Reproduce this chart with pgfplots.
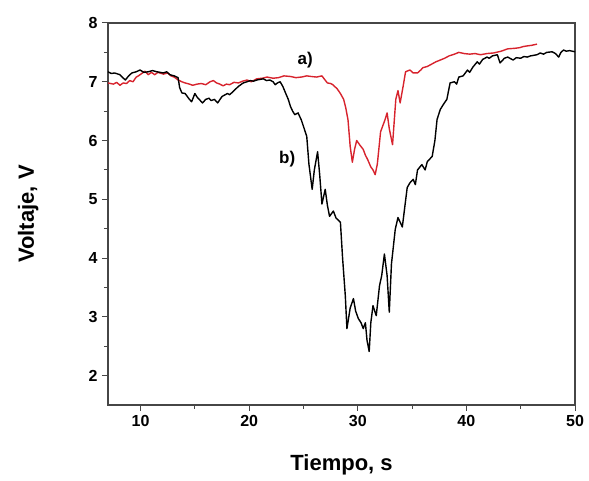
\documentclass[border=0pt]{standalone}
\usepackage{fontspec}
\setmainfont{Liberation Sans}
\usepackage{pgfplots}
\pgfplotsset{compat=1.18}
\definecolor{redline}{RGB}{215,35,45}
\definecolor{axgray}{RGB}{70,70,70}
\begin{document}
\begin{tikzpicture}
\begin{axis}[
  scale only axis,
  width=467pt, height=382pt,
  xmin=7, xmax=50, ymin=1.5, ymax=8,
  xtick={10,20,30,40,50}, ytick={2,3,4,5,6,7,8},
  minor x tick num=1, minor y tick num=1,
  tick align=outside,
  xtick pos=bottom, ytick pos=left,
  major tick length=6pt, minor tick length=4pt,
  axis line style={axgray, line width=1.2pt},
  every tick/.style={axgray, line width=1pt},
  /pgf/number format/assume math mode=true,
  ticklabel style={font=\fontsize{16}{18}\selectfont\bfseries},
  xticklabel style={yshift=-1pt},
  yticklabel style={xshift=-1pt},
  xlabel={Tiempo, s}, ylabel={Voltaje, V},
  every axis x label/.style={at={(axis description cs:0.5,-0.157)}, anchor=center, font=\fontsize{22}{24}\selectfont\bfseries},
  every axis y label/.style={at={(axis description cs:-0.171,0.5)}, anchor=center, rotate=90, font=\fontsize{22}{24}\selectfont\bfseries},
]
\addplot[redline, line width=1.4pt, line join=round] coordinates {
(7.0,6.98) (7.5,6.96) (7.8,6.99) (8.1,6.94) (8.4,6.98) (8.7,6.97) (9.0,7.02) (9.3,7.0) (9.6,7.08) (9.8,7.1) (10.1,7.14) (10.4,7.18) (10.7,7.12) (11.0,7.16) (11.3,7.12) (11.6,7.16) (12.1,7.13) (12.5,7.15) (12.8,7.1) (13.1,7.08) (13.45,7.03) (13.8,7.0) (14.1,6.98) (14.5,6.96) (14.8,6.94) (15.2,6.96) (15.6,6.97) (16.0,6.95) (16.4,7.0) (16.7,7.02) (17.0,6.98) (17.3,6.96) (17.6,6.93) (17.9,6.96) (18.2,6.95) (18.6,6.99) (19.0,6.98) (19.4,7.01) (19.8,7.03) (20.2,7.0) (20.7,7.05) (21.2,7.06) (21.65,7.08) (22.2,7.06) (22.7,7.07) (23.2,7.1) (23.8,7.09) (24.3,7.07) (24.8,7.08) (25.3,7.1) (25.7,7.09) (26.2,7.08) (26.7,7.1) (26.9,7.05) (27.2,6.98) (27.5,6.97) (27.7,6.95) (28.1,6.88) (28.4,6.8) (28.7,6.7) (28.9,6.55) (29.1,6.35) (29.3,5.9) (29.5,5.63) (29.7,5.85) (29.9,6.0) (30.2,5.92) (30.5,5.85) (30.7,5.75) (30.9,5.68) (31.2,5.55) (31.4,5.5) (31.6,5.42) (31.8,5.6) (32.1,6.15) (32.3,6.25) (32.5,6.35) (32.7,6.47) (32.9,6.2) (33.2,5.93) (33.5,6.7) (33.7,6.85) (33.9,6.64) (34.2,6.95) (34.4,7.17) (34.8,7.2) (35.1,7.15) (35.5,7.15) (35.8,7.2) (36.0,7.24) (36.4,7.26) (36.8,7.3) (37.2,7.34) (37.6,7.37) (38.0,7.4) (38.4,7.44) (38.9,7.47) (39.3,7.5) (39.8,7.48) (40.3,7.47) (40.8,7.48) (41.3,7.46) (41.9,7.48) (42.5,7.49) (43.2,7.52) (43.8,7.56) (44.5,7.57) (44.9,7.58) (45.25,7.6) (45.6,7.61) (46.0,7.62) (46.5,7.64)
};
\addplot[black, line width=1.4pt, line join=round] coordinates {
(7.0,7.17) (7.3,7.14) (7.6,7.15) (8.1,7.12) (8.3,7.08) (8.6,7.03) (8.9,7.1) (9.2,7.15) (9.6,7.17) (9.95,7.2) (10.3,7.16) (10.7,7.17) (11.1,7.19) (11.5,7.17) (12.1,7.15) (12.4,7.17) (12.7,7.12) (13.1,7.1) (13.45,7.07) (13.6,6.9) (13.8,6.81) (14.1,6.8) (14.3,6.75) (14.5,6.7) (14.7,6.66) (15.0,6.8) (15.2,6.74) (15.4,6.7) (15.7,6.64) (16.0,6.7) (16.3,6.72) (16.5,6.68) (16.8,6.7) (17.1,6.64) (17.5,6.75) (17.8,6.78) (18.0,6.8) (18.2,6.78) (18.5,6.83) (19.0,6.92) (19.45,6.98) (19.8,7.0) (20.1,7.02) (20.4,7.01) (20.7,7.03) (21.0,7.04) (21.3,7.05) (21.6,7.02) (21.9,7.03) (22.2,7.0) (22.4,6.95) (22.6,6.98) (22.85,7.0) (23.1,6.92) (23.3,6.83) (23.6,6.7) (23.8,6.58) (24.0,6.5) (24.2,6.44) (24.5,6.47) (24.8,6.35) (25.0,6.24) (25.3,6.07) (25.5,5.6) (25.8,5.17) (26.0,5.5) (26.3,5.81) (26.5,5.4) (26.7,4.92) (27.0,5.17) (27.2,4.9) (27.4,4.71) (27.75,4.8) (28.0,4.68) (28.4,4.61) (28.6,4.0) (28.85,3.36) (29.0,2.8) (29.3,3.15) (29.6,3.31) (29.8,3.1) (30.05,2.97) (30.3,2.9) (30.5,2.8) (30.7,2.9) (30.85,2.6) (31.05,2.41) (31.2,2.9) (31.4,3.19) (31.7,3.02) (32.0,3.53) (32.2,3.7) (32.45,4.07) (32.7,3.7) (32.9,3.08) (33.1,3.9) (33.45,4.49) (33.7,4.69) (34.1,4.53) (34.55,5.2) (34.8,5.28) (35.1,5.34) (35.3,5.25) (35.5,5.5) (35.9,5.59) (36.2,5.5) (36.4,5.64) (36.6,5.68) (36.85,5.73) (37.1,6.0) (37.3,6.36) (37.6,6.53) (37.9,6.62) (38.2,6.7) (38.5,6.98) (38.9,7.0) (39.1,6.96) (39.3,7.08) (39.7,7.1) (40.1,7.2) (40.3,7.16) (40.6,7.25) (41.0,7.34) (41.2,7.3) (41.5,7.38) (41.9,7.42) (42.1,7.4) (42.4,7.44) (42.85,7.46) (43.1,7.32) (43.5,7.4) (43.8,7.42) (44.3,7.37) (44.6,7.41) (45.0,7.4) (45.3,7.43) (45.6,7.42) (45.9,7.44) (46.2,7.45) (46.5,7.46) (46.8,7.49) (47.1,7.47) (47.4,7.5) (47.9,7.51) (48.2,7.48) (48.5,7.42) (48.7,7.5) (48.95,7.54) (49.2,7.52) (49.5,7.53) (50.0,7.51)
};
\node[font=\fontsize{17}{19}\selectfont\bfseries] at (axis cs:25.15,7.37) {a)};
\node[font=\fontsize{17}{19}\selectfont\bfseries] at (axis cs:23.5,5.69) {b)};
\end{axis}
\path (current axis.south west) ++(-108pt,-76pt) coordinate (bbA);
\path (current axis.north east) ++(14pt,23pt) coordinate (bbB);
\path (bbA) rectangle (bbB);
\end{tikzpicture}
\end{document}
